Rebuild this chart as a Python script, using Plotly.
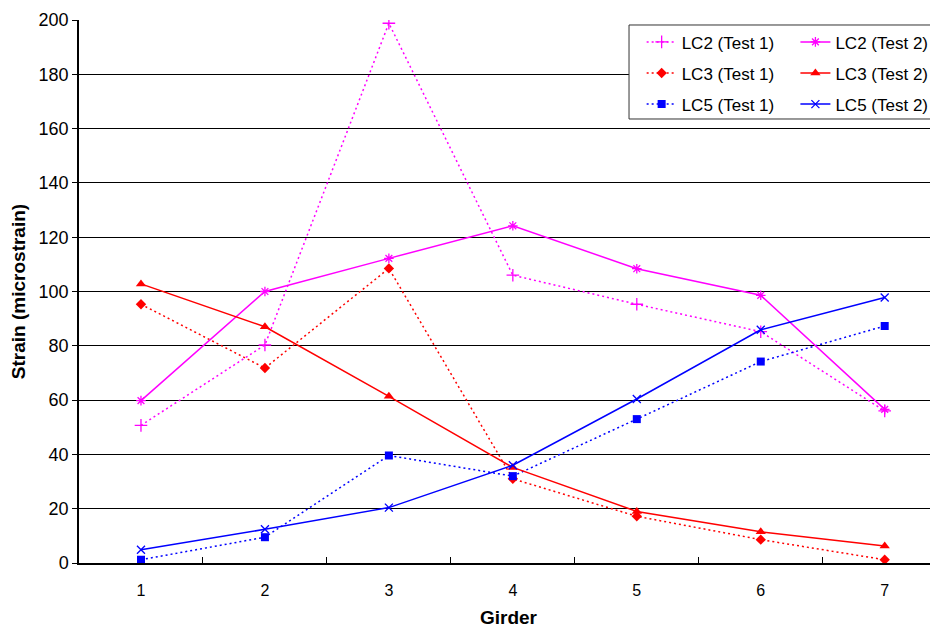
import plotly.graph_objects as go

girders = [1, 2, 3, 4, 5, 6, 7]
tick_labels = ["1", "2", "3", "4", "5", "6", "7"]

lc2_test1 = [50.7, 80.3, 198.8, 106.0, 95.3, 85.2, 56.0]
lc2_test2 = [59.8, 100.0, 112.2, 124.2, 108.4, 98.6, 56.6]
lc3_test1 = [95.3, 71.8, 108.5, 31.0, 17.2, 8.6, 1.2]
lc3_test2 = [102.8, 87.0, 61.4, 35.2, 19.0, 11.5, 6.3]
lc5_test1 = [1.2, 9.5, 39.6, 32.0, 53.0, 74.2, 87.3]
lc5_test2 = [4.9, 12.4, 20.4, 36.0, 60.4, 85.9, 97.8]

MAG = "#FF00FF"
RED = "#FF0000"
BLU = "#0000FF"
DOT = "2px,3px"

FONT = "Liberation Sans, Arial, sans-serif"

fig = go.Figure()

def add(name, y, color, dash, symbol, size, legend, thin=False):
    marker = dict(symbol=symbol, size=size, color=color)
    if thin:
        marker["line"] = dict(color=color, width=1.3)
    fig.add_trace(go.Scatter(
        x=girders, y=y, name=name, mode="lines+markers",
        line=dict(color=color, width=1.5, dash=dash),
        marker=marker, legend=legend, legendgroup=name,
    ))

add("LC2 (Test 1)", lc2_test1, MAG, DOT, "cross-thin-open", 9, "legend", thin=True)
add("LC3 (Test 1)", lc3_test1, RED, DOT, "diamond", 8, "legend")
add("LC5 (Test 1)", lc5_test1, BLU, DOT, "square", 8, "legend")
add("LC2 (Test 2)", lc2_test2, MAG, "solid", "asterisk-open", 8, "legend2", thin=True)
add("LC3 (Test 2)", lc3_test2, RED, "solid", "triangle-up", 9, "legend2")
add("LC5 (Test 2)", lc5_test2, BLU, "solid", "x-thin-open", 8, "legend2", thin=True)

legend_common = dict(
    font=dict(family=FONT, size=17, color="black"),
    bgcolor="rgba(0,0,0,0)", borderwidth=0,
    xanchor="left", yanchor="top", tracegroupgap=6,
    orientation="v",
)

fig.update_layout(
    width=938, height=628,
    margin=dict(l=71, r=8, t=12, b=73),
    paper_bgcolor="white", plot_bgcolor="white",
    font=dict(family=FONT, color="black"),
    legend=dict(x=0.655, y=0.992, **legend_common),
    legend2=dict(x=0.834, y=0.992, **legend_common),
    shapes=[dict(type="rect", xref="paper", yref="paper",
                 x0=0.6403, x1=0.9965, y0=0.8177, y1=0.9908,
                 line=dict(color="#333333", width=1), fillcolor="white",
                 layer="above")],
    xaxis=dict(
        range=[0.5, 7.43], tickvals=girders, ticktext=tick_labels,
        ticks="", showgrid=False, zeroline=False, automargin=False,
        showline=True, linecolor="black", linewidth=1.5,
        tickfont=dict(family=FONT, size=16, color="black"),
        ticklabelstandoff=12,
        minor=dict(tickvals=[1.5, 2.5, 3.5, 4.5, 5.5, 6.5], ticks="inside",
                   ticklen=6, tickcolor="black", showgrid=False),
        title=dict(text="<b>Girder</b>", font=dict(family=FONT, size=19, color="black"),
                   standoff=13),
    ),
    yaxis=dict(
        range=[0, 200], tickvals=list(range(0, 201, 20)),
        ticks="outside", ticklen=5, tickcolor="black", automargin=False,
        showgrid=True, gridcolor="black", gridwidth=1,
        zeroline=False, showline=True, linecolor="black", linewidth=1.5,
        tickfont=dict(family=FONT, size=18, color="black"),
        title=dict(text="<b>Strain (microstrain)</b>",
                   font=dict(family=FONT, size=19, color="black"), standoff=11),
    ),
)

fig.write_html("out.html")
